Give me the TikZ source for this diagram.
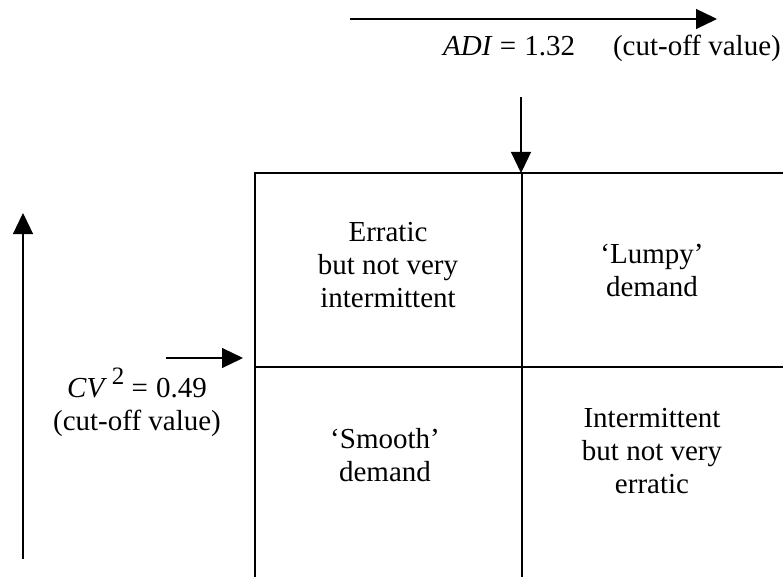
\documentclass[tikz,border=0pt]{standalone}
\usepackage{fontspec}
\setmainfont{Liberation Serif}
\usetikzlibrary{arrows.meta}

\tikzset{
	cell/.style={align=center, font=\fontsize{29}{33}\selectfont},
	label/.style={font=\fontsize{29}{33}\selectfont, inner sep=0pt},
	axis/.style={line width=1.2pt, -{Triangle[length=21pt, width=20pt]}},
	grid/.style={line width=2pt}
}

\begin{document}
\begin{tikzpicture}[x=1pt, y=-1pt]
	\useasboundingbox (0, 0) rectangle (783, 577);

	% corners of the matrix
	\coordinate (tl) at (255, 173);
	\coordinate (tm) at (522, 173);
	\coordinate (tr) at (783, 173);
	\coordinate (ml) at (255, 367);
	\coordinate (mr) at (783, 367);
	\coordinate (bl) at (255, 577);
	\coordinate (bm) at (522, 577);

	% the matrix lines
	\draw[grid] (tr) -- (tl) -- (bl);
	\draw[grid] (tm) -- (bm);
	\draw[grid] (ml) -- (mr);

	% the four cells
	\node[cell] (erratic) at (388, 265) {Erratic\\but not very\\intermittent};
	\node[cell] (lumpy) at (652, 270) {`Lumpy'\\demand};
	\node[cell] (smooth) at (385, 455) {`Smooth'\\demand};
	\node[cell] (intermittent) at (652, 451) {Intermittent\\but not very\\erratic};

	% ADI axis and cut-off
	\coordinate (adistart) at (350, 19);
	\coordinate (adiend) at (717, 19);
	\draw[axis] (adistart) -- (adiend);
	\node[label, anchor=base west] (adi) at (443, 56) {\textit{ADI} =\;1.32};
	\node[label, anchor=base east] (adicut) at (781, 56) {(cut-off value)};
	\coordinate (adidown) at (521, 97);
	\draw[axis] (adidown) -- (521, 173);

	% CV^2 axis and cut-off
	\coordinate (cvstart) at (23, 559);
	\coordinate (cvend) at (23, 213);
	\draw[axis] (cvstart) -- (cvend);
	\node[cell, anchor=base] (cv) at (137, 430) {\textit{CV}\,\raisebox{0.42em}{\fontsize{25}{25}\selectfont 2} =\;0.49\\(cut-off value)};
	\coordinate (cvright) at (166, 358);
	\coordinate (cvtip) at (243, 358);
	\draw[axis] (cvright) -- (cvtip);
\end{tikzpicture}
\end{document}
